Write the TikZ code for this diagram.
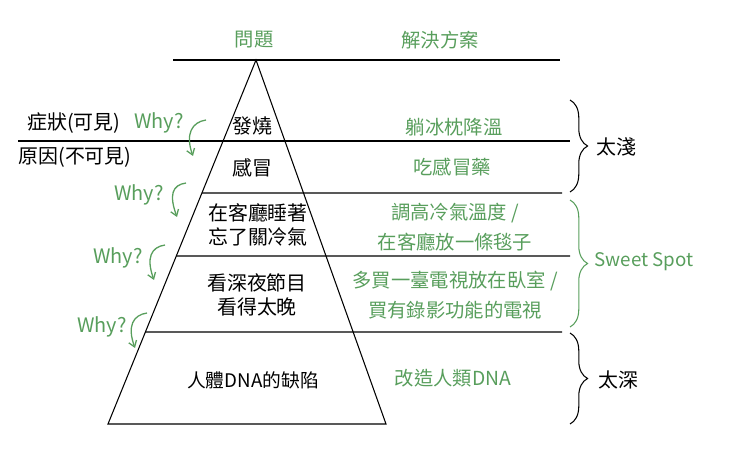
\documentclass[tikz,border=0pt]{standalone}
\usepackage{fontspec}
\setmainfont{Noto Sans CJK TC}
\usetikzlibrary{calc,arrows.meta,decorations.pathreplacing}
\definecolor{fixgreen}{RGB}{88,158,92}
\tikzset{
  cjk/.style={font=\fontsize{17}{21}\selectfont,align=center,inner sep=0pt},
  fix/.style={cjk,text=fixgreen,font=\fontsize{16.5}{25}\selectfont},
  why/.style={text=fixgreen,font=\fontsize{17}{18}\selectfont,inner sep=0pt},
  whyarr/.style={fixgreen,line width=1.1pt,-{Straight Barb[length=5pt,width=7pt]}},
  curly/.style={decorate,decoration={brace,amplitude=15pt,aspect=0.5},line width=0.9pt}
}
\begin{document}
\begin{tikzpicture}[x=0.03cm,y=-0.03cm,line width=0.9pt]
  \useasboundingbox (0,0) rectangle (750,455);
  \coordinate (apex) at (256,60); \coordinate (baseL) at (108,424); \coordinate (baseR) at (386,424);
  \draw (apex)--(baseL)--(baseR)--cycle;
  \draw (173,60)--(560,60); \draw (18,141)--(570,141);
  \foreach \y/\xe in {193/562,256/570,332/562}
    \draw ($(apex)!{(\y-60)/364}!(baseL)$) -- (\xe,\y);

  \node[fix] (qhead) at (254,40) {問題};
  \node[fix] (shead) at (440,40) {解決方案};
  \node[cjk] (sym) at (74,123) {症狀(可見)};
  \node[cjk] (cause) at (75,157) {原因(不可見)};

  \node[cjk] (l1) at (252,126) {發燒};
  \node[cjk] (l2) at (252,168) {感冒};
  \node[cjk] (l3) at (258,225) {在客廳睡著\\忘了關冷氣};
  \node[cjk] (l4) at (257,295) {看深夜節目\\看得太晚};
  \node[cjk,font=\fontsize{16}{20}\selectfont] (l5) at (253,380) {人體DNA的缺陷};

  \node[fix] (s1) at (454,127) {躺冰枕降溫};
  \node[fix] (s2) at (452,167) {吃感冒藥};
  \node[fix] (s3) at (455,227) {調高冷氣溫度 /\\在客廳放一條毯子};
  \node[fix] (s4) at (455,295) {多買一臺電視放在臥室 /\\買有錄影功能的電視};
  \node[fix] (s5) at (453,378) {改造人類DNA};

  \draw[curly] (570,100) -- (570,192);
  \draw[curly,fixgreen] (570,200) -- (570,327);
  \draw[curly] (570,333) -- (570,424);
  \node[cjk] (shallow) at (616,147) {太淺};
  \node[why,font=\fontsize{16}{18}\selectfont] (sweet) at (644,262) {Sweet Spot};
  \node[cjk] (deep) at (618,380) {太深};

  \node[why] (w1) at (159,123) {Why?};
  \node[why] (w2) at (139,195) {Why?};
  \node[why] (w3) at (118,258) {Why?};
  \node[why] (w4) at (102,327) {Why?};
  \foreach \w/\x/\y/\ex/\ey in {w1/206/120/193/156,w2/186/183/177/217,w3/165/245/154/280,w4/147/313/135/348}{
    \coordinate (\w top) at (\x,\y); \coordinate (\w tip) at (\ex,\ey);
    \draw[whyarr] (\w top) .. controls ($(\w top)+(-14,2)$) and ($(\w tip)+(-8,-22)$) .. (\w tip);
  }
\end{tikzpicture}
\end{document}
